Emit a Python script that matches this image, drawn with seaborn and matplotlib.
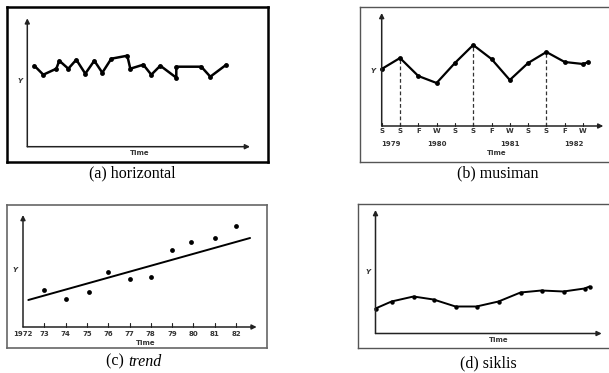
import matplotlib
matplotlib.use("Agg")
import matplotlib.pyplot as plt
import seaborn as sns
import numpy as np

sns.set_style("white")
plt.rcParams['font.family'] = ['DejaVu Sans']

# ---------------- data ----------------
# (a) horizontal pattern: time position and value
a_time = [7, 16, 29, 32, 41, 49, 58, 67, 75, 84, 100, 103, 116, 124, 133, 149, 149, 174, 183, 199]
a_value = [81, 72, 78, 86, 78, 87, 73, 86, 74, 88, 91, 78, 82, 72, 81, 69, 80, 80, 70, 82]

# (b) seasonal pattern: season index and value
b_season = [0, 1, 2, 3, 4, 5, 6, 7, 8, 9, 10, 11, 11.3]
b_value = [57, 68, 50, 43, 63, 81, 67, 46, 63, 74, 64, 62, 64]
b_peaks = [1, 5, 9]
b_tick_labels = ["S", "S", "F", "W", "S", "S", "F", "W", "S", "S", "F", "W"]
b_years = ["1979", "1980", "1981", "1982"]
b_year_pos = [0.5, 3, 7, 10.5]

# (c) trend pattern: year and value
c_year = [1973, 1974, 1975.1, 1976, 1977, 1978, 1979, 1979.9, 1981, 1982]
c_value = [37, 28, 35, 55, 48, 50, 77, 85, 89, 101]
c_trend_year = [1972.25, 1982.66]
c_trend_value = [27, 89]
c_tick_years = [1973, 1974, 1975, 1976, 1977, 1978, 1979, 1980, 1981, 1982]
c_tick_labels = ["73", "74", "75", "76", "77", "78", "79", "80", "81", "82"]

# (d) cyclical pattern: time position and value
d_time = [0, 16, 38, 58, 80, 101, 123, 145, 166, 188, 209, 214]
d_value = [25, 32, 37, 34, 27, 27, 32, 41, 43, 42, 45, 47]

captions = ["(a) horizontal", "(b) musiman", "(c) ", "(d) siklis"]

# ---------------- figure ----------------
W, H = 609, 373
fig = plt.figure(figsize=(W / 100, H / 100), dpi=100)


def make_axes(l, t, r, b, ox, oy, sx, x0, frame_color, frame_lw):
    ax = fig.add_axes([l / W, 1 - b / H, (r - l) / W, (b - t) / H])
    ax.set_xlim((l - ox) / sx + x0, (r - ox) / sx + x0)
    ax.set_ylim(oy - b, oy - t)
    ax.set_xticks([])
    ax.set_yticks([])
    for s in ax.spines.values():
        s.set_visible(True)
        s.set_color(frame_color)
        s.set_linewidth(frame_lw)
    ax.set_facecolor("white")
    return ax


def axis_arrows(ax, x0, xend, ytop, lw=1.1):
    kw = dict(arrowstyle='-|>', color='#222222', lw=lw, mutation_scale=7,
              shrinkA=0, shrinkB=0)
    ax.annotate('', xy=(xend, 0), xytext=(x0, 0), arrowprops=kw, annotation_clip=False)
    ax.annotate('', xy=(x0, ytop), xytext=(x0, 0), arrowprops=kw, annotation_clip=False)


small = dict(fontsize=5, color='#333333', fontweight='bold', ha='center', va='center')
ylab = dict(fontsize=5, color='#333333', style='italic', fontweight='bold', ha='center', va='center')

# ---- (a) ----
axA = make_axes(7.3, 7.3, 268.3, 161.7, 27.3, 146.7, 1, 0, 'black', 1.8)
axis_arrows(axA, 0, 222.7, 128.4)
sns.lineplot(x=a_time, y=a_value, ax=axA, color='black', linewidth=1.8,
             marker='o', markersize=3.5, markeredgewidth=0, estimator=None, sort=False)
axA.text(112, -6.6, "Time", **small)
axA.text(-7.3, 65.7, "Y", **ylab)

# ---- (b) ----
axB = make_axes(360, 6.7, 613, 161.7, 381.7, 126, 18.3, 0, '#555555', 1.0)
axis_arrows(axB, 0, 12.11, 113)
for i, s in enumerate(b_tick_labels):
    axB.plot([i, i], [0, 3], color='#222222', lw=0.8)
    axB.text(i, -4.5, s, **small)
for yl, yp in zip(b_years, b_year_pos):
    axB.text(yp, -18, yl, **small)
axB.text(6.3, -27, "Time", **small)
axB.text(-0.46, 55.3, "Y", **ylab)
axB.vlines(b_peaks, 0, [b_value[i] for i in b_peaks], colors='#333333',
           linestyles=(0, (3, 2)), linewidth=0.9)
sns.lineplot(x=b_season, y=b_value, ax=axB, color='black', linewidth=1.6,
             marker='o', markersize=3.5, markeredgewidth=0, estimator=None, sort=False)

# ---- (c) ----
axC = make_axes(7.3, 205, 266.7, 348.3, 23, 327, 21.3, 1972, '#666666', 1.2)
axis_arrows(axC, 1972, 1982.97, 112)
for yr, lab in zip(c_tick_years, c_tick_labels):
    axC.plot([yr, yr], [0, 4], color='#222222', lw=0.8)
    axC.text(yr, -7, lab, **small)
axC.text(1972, -7, "1972", **small)
axC.text(1972 + 122.7 / 21.3, -15.7, "Time", **small)
axC.text(1972 - 8 / 21.3, 57, "Y", **ylab)
sns.lineplot(x=c_trend_year, y=c_trend_value, ax=axC, color='black', linewidth=1.4)
sns.scatterplot(x=c_year, y=c_value, ax=axC, color='black', s=12, linewidth=0)

# ---- (d) ----
axD = make_axes(358.3, 204, 613, 348.3, 375.5, 333.5, 1, 0, '#555555', 1.0)
axis_arrows(axD, 0, 226.2, 123.5)
axD.text(122.8, -6.5, "Time", **small)
axD.text(-7.2, 61.8, "Y", **ylab)
sns.lineplot(x=d_time, y=d_value, ax=axD, color='black', linewidth=1.4,
             marker='o', markersize=3.2, markeredgewidth=0, estimator=None, sort=False)

for ax in (axA, axB, axC, axD):
    ax.set_xlabel("")
    ax.set_ylabel("")

# ---------------- captions ----------------
cap = dict(fontsize=11.5, family='Liberation Serif', color='black', va='center')
fig.text(132.7 / W, 1 - 173.3 / H, captions[0], ha='center', **cap)
fig.text(497.5 / W, 1 - 173.3 / H, captions[1], ha='center', **cap)
fig.text(106 / W, 1 - 361.7 / H, captions[2], ha='left', **cap)
fig.text(128 / W, 1 - 361.7 / H, "trend", ha='left', style='italic', **cap)
fig.text(488.7 / W, 1 - 363.3 / H, captions[3], ha='center', **cap)

fig.savefig("out.png", dpi=100, facecolor='white')
